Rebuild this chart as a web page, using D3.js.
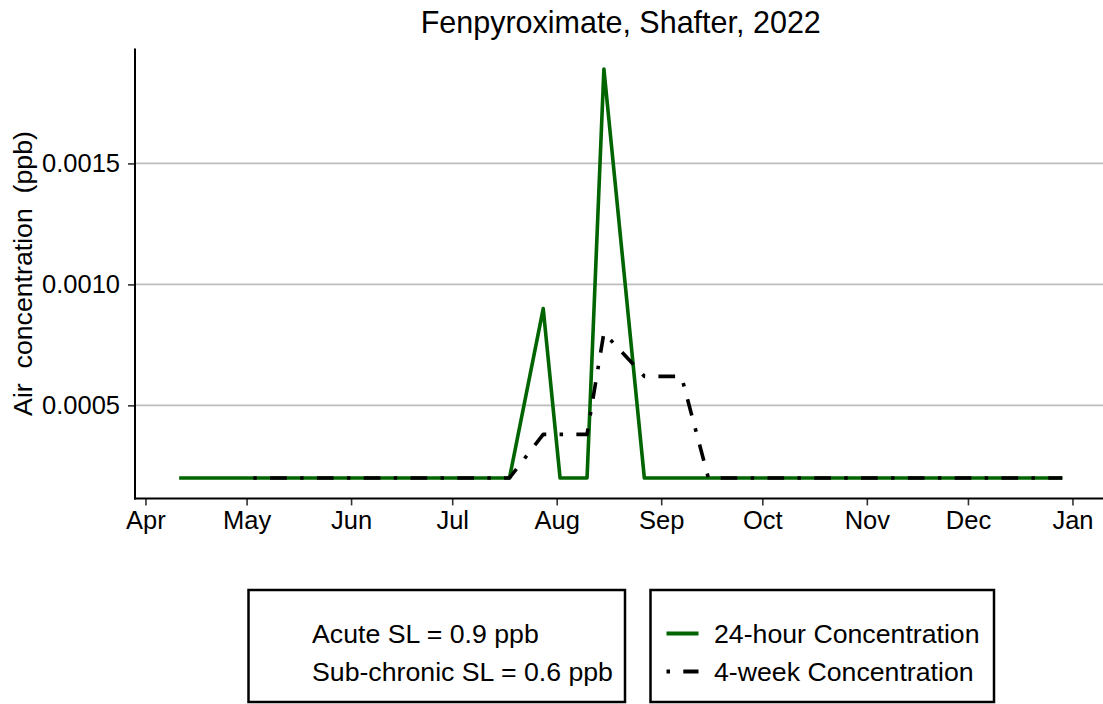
<!DOCTYPE html>
<html>
<head>
<meta charset="utf-8">
<script src="https://cdn.jsdelivr.net/npm/d3@7"></script>
<style>
  html, body { margin: 0; padding: 0; background: #fff; }
  svg { display: block; font-family: "Liberation Sans", Arial, sans-serif; }
</style>
</head>
<body>
<svg id="chart" width="1103" height="704"></svg>
<script>
// ---- data ----
const titleText = "Fenpyroximate, Shafter, 2022";
const yLabel = "Air  concentration  (ppb)";

const dates24h = ["2022-04-11", "2022-07-18", "2022-07-28", "2022-08-02", "2022-08-10", "2022-08-15", "2022-08-27", "2022-12-29"];
const values24h = [0.0002, 0.0002, 0.0009, 0.0002, 0.0002, 0.00189, 0.0002, 0.0002];

const dates4wk = ["2022-05-03", "2022-07-18", "2022-07-28", "2022-08-10", "2022-08-15", "2022-08-27", "2022-09-07", "2022-09-15", "2022-12-29"];
const values4wk = [0.0002, 0.0002, 0.00038, 0.00038, 0.0008, 0.00062, 0.00062, 0.0002, 0.0002];

const yTicks = [0.0005, 0.0010, 0.0015];
const yTickLabels = ["0.0005", "0.0010", "0.0015"];
const xTickDates = ["2022-04-01", "2022-05-01", "2022-06-01", "2022-07-01", "2022-08-01", "2022-09-01", "2022-10-01", "2022-11-01", "2022-12-01", "2023-01-01"];
const xTickLabels = ["Apr", "May", "Jun", "Jul", "Aug", "Sep", "Oct", "Nov", "Dec", "Jan"];

const legendSL = ["Acute SL = 0.9 ppb", "Sub-chronic SL = 0.6 ppb"];
const legendSeries = ["24-hour Concentration", "4-week Concentration"];

// ---- layout ----
const svg = d3.select("#chart");
const panel = { left: 135, right: 1106.5, top: 48.6, bottom: 498.4 };
const green = "#006400";
const dashPattern = "3.5,13.3,16.7,13.3";

const parse = d3.utcParse("%Y-%m-%d");
const s24 = dates24h.map((d, i) => ({ date: parse(d), value: values24h[i] }));
const s4w = dates4wk.map((d, i) => ({ date: parse(d), value: values4wk[i] }));

const allDates = s24.map(d => d.date).concat(s4w.map(d => d.date));
const allVals = values24h.concat(values4wk);
const [dMin, dMax] = d3.extent(allDates);
const span = dMax - dMin;
const x = d3.scaleUtc()
  .domain([new Date(+dMin - span * 0.05), new Date(+dMax + span * 0.05)])
  .range([panel.left, panel.right]);
const [vMin, vMax] = d3.extent(allVals);
const vSpan = vMax - vMin;
const y = d3.scaleLinear()
  .domain([vMin - vSpan * 0.05, vMax + vSpan * 0.05])
  .range([panel.bottom, panel.top]);

// gridlines
svg.append("g").selectAll("line").data(yTicks).join("line")
  .attr("x1", panel.left).attr("x2", 1103)
  .attr("y1", d => y(d)).attr("y2", d => y(d))
  .attr("stroke", "#bdbdbd").attr("stroke-width", 1.6);

// y axis
const yAxis = d3.axisLeft(y).tickValues(yTicks)
  .tickFormat((d, i) => yTickLabels[i]).tickSize(7).tickPadding(8);
const gy = svg.append("g").attr("transform", `translate(${panel.left},0)`).call(yAxis);
gy.select(".domain").remove();
gy.selectAll(".tick line").attr("stroke", "#333").attr("stroke-width", 1.6);
gy.selectAll(".tick text").attr("font-size", "25.5px").attr("fill", "#000")
  .attr("font-family", "Liberation Sans, Arial, sans-serif");

// x axis
const xAxis = d3.axisBottom(x).tickValues(xTickDates.map(parse))
  .tickFormat((d, i) => xTickLabels[i]).tickSize(7).tickPadding(6);
const gx = svg.append("g").attr("transform", `translate(0,${panel.bottom})`).call(xAxis);
gx.select(".domain").remove();
gx.selectAll(".tick line").attr("stroke", "#333").attr("stroke-width", 1.6);
gx.selectAll(".tick text").attr("font-size", "25.5px").attr("fill", "#000")
  .attr("font-family", "Liberation Sans, Arial, sans-serif");

// axis lines
svg.append("line").attr("x1", panel.left).attr("x2", panel.left)
  .attr("y1", panel.top).attr("y2", panel.bottom + 1)
  .attr("stroke", "#000").attr("stroke-width", 2);
svg.append("line").attr("x1", panel.left - 1).attr("x2", 1103)
  .attr("y1", panel.bottom).attr("y2", panel.bottom)
  .attr("stroke", "#000").attr("stroke-width", 2);

// lines
const line = d3.line().x(d => x(d.date)).y(d => y(d.value));
svg.append("path").datum(s24).attr("d", line)
  .attr("fill", "none").attr("stroke", green).attr("stroke-width", 3.6)
  .attr("stroke-linejoin", "round");
svg.append("path").datum(s4w).attr("d", line)
  .attr("fill", "none").attr("stroke", "#000").attr("stroke-width", 3.6)
  .attr("stroke-dasharray", dashPattern).attr("stroke-linejoin", "round");

// title
svg.append("text").attr("x", (panel.left + panel.right) / 2).attr("y", 33)
  .attr("text-anchor", "middle").attr("font-size", "30.5px").attr("fill", "#000")
  .text(titleText);

// y label
svg.append("text")
  .attr("transform", `translate(32,${(panel.top + panel.bottom) / 2}) rotate(-90)`)
  .attr("text-anchor", "middle").attr("font-size", "26.7px").attr("fill", "#000")
  .style("white-space", "pre")
  .text(yLabel);

// legends
const boxTop = 590, boxBottom = 702;
const rowY = [643, 681];
svg.append("rect").attr("x", 248.5).attr("y", boxTop).attr("width", 376.5).attr("height", boxBottom - boxTop)
  .attr("fill", "none").attr("stroke", "#000").attr("stroke-width", 2.5);
svg.append("rect").attr("x", 650.5).attr("y", boxTop).attr("width", 343.5).attr("height", boxBottom - boxTop)
  .attr("fill", "none").attr("stroke", "#000").attr("stroke-width", 2.5);

svg.append("g").selectAll("text").data(legendSL).join("text")
  .attr("x", 312).attr("y", (d, i) => rowY[i])
  .attr("font-size", "26.7px").attr("fill", "#000").text(d => d);

svg.append("g").selectAll("text").data(legendSeries).join("text")
  .attr("x", 714).attr("y", (d, i) => rowY[i])
  .attr("font-size", "26.7px").attr("fill", "#000").text(d => d);

svg.append("line").attr("x1", 666.5).attr("x2", 698.5).attr("y1", 633.5).attr("y2", 633.5)
  .attr("stroke", green).attr("stroke-width", 4);
svg.append("line").attr("x1", 666.5).attr("x2", 698.5).attr("y1", 671.5).attr("y2", 671.5)
  .attr("stroke", "#000").attr("stroke-width", 4).attr("stroke-dasharray", dashPattern);
</script>
</body>
</html>
